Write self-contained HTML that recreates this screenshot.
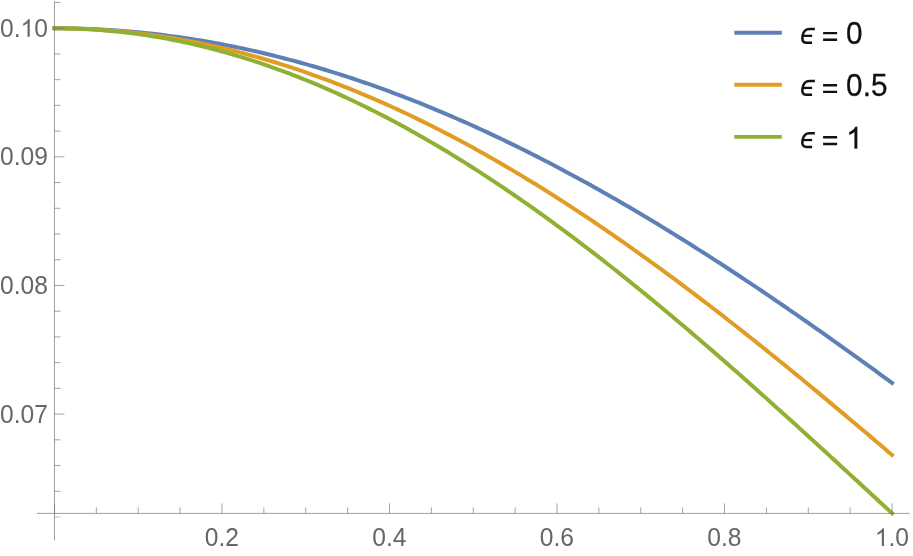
<!DOCTYPE html>
<html><head><meta charset="utf-8"><title>plot</title>
<style>
html,body{margin:0;padding:0;background:#fff;}
body{width:913px;height:556px;overflow:hidden;}
svg{display:block;}
text{font-family:"Liberation Sans",sans-serif;}
.tl{font-size:25.5px;fill:#666;}
.lg{font-size:31px;fill:#111;stroke:#111;stroke-width:0.3px;}
</style></head><body>
<svg width="913" height="556" viewBox="0 0 913 556">
<defs><filter id="gs" x="0" y="0" width="100%" height="100%" filterUnits="userSpaceOnUse" color-interpolation-filters="sRGB"><feColorMatrix type="saturate" values="0"/></filter></defs>
<rect width="913" height="556" fill="#fff"/>

<path d="M54.45,28.30 L58.64,28.31 L62.83,28.34 L67.01,28.39 L71.20,28.46 L75.39,28.55 L79.58,28.66 L83.77,28.79 L87.95,28.94 L92.14,29.11 L96.33,29.31 L100.52,29.52 L104.71,29.75 L108.89,30.00 L113.08,30.27 L117.27,30.56 L121.46,30.87 L125.65,31.20 L129.83,31.56 L134.02,31.93 L138.21,32.32 L142.40,32.73 L146.59,33.16 L150.77,33.61 L154.96,34.08 L159.15,34.58 L163.34,35.09 L167.53,35.62 L171.71,36.17 L175.90,36.74 L180.09,37.33 L184.28,37.94 L188.47,38.57 L192.65,39.22 L196.84,39.89 L201.03,40.58 L205.22,41.29 L209.41,42.02 L213.59,42.76 L217.78,43.53 L221.97,44.32 L226.16,45.13 L230.35,45.95 L234.53,46.80 L238.72,47.66 L242.91,48.55 L247.10,49.45 L251.29,50.38 L255.47,51.32 L259.66,52.28 L263.85,53.26 L268.04,54.26 L272.23,55.28 L276.41,56.32 L280.60,57.38 L284.79,58.46 L288.98,59.56 L293.17,60.67 L297.35,61.80 L301.54,62.96 L305.73,64.13 L309.92,65.32 L314.11,66.53 L318.29,67.76 L322.48,69.01 L326.67,70.27 L330.86,71.56 L335.05,72.86 L339.23,74.18 L343.42,75.52 L347.61,76.88 L351.80,78.25 L355.99,79.65 L360.17,81.06 L364.36,82.49 L368.55,83.94 L372.74,85.41 L376.93,86.90 L381.11,88.40 L385.30,89.92 L389.49,91.46 L393.68,93.02 L397.87,94.59 L402.05,96.19 L406.24,97.80 L410.43,99.43 L414.62,101.07 L418.81,102.73 L422.99,104.42 L427.18,106.11 L431.37,107.83 L435.56,109.56 L439.75,111.31 L443.93,113.08 L448.12,114.86 L452.31,116.66 L456.50,118.48 L460.69,120.31 L464.87,122.16 L469.06,124.03 L473.25,125.92 L477.44,127.82 L481.63,129.73 L485.81,131.67 L490.00,133.62 L494.19,135.58 L498.38,137.57 L502.57,139.57 L506.75,141.58 L510.94,143.61 L515.13,145.66 L519.32,147.72 L523.51,149.80 L527.69,151.89 L531.88,154.00 L536.07,156.12 L540.26,158.26 L544.45,160.42 L548.63,162.59 L552.82,164.78 L557.01,166.98 L561.20,169.19 L565.39,171.42 L569.57,173.67 L573.76,175.93 L577.95,178.20 L582.14,180.49 L586.33,182.79 L590.51,185.11 L594.70,187.44 L598.89,189.79 L603.08,192.15 L607.27,194.52 L611.45,196.91 L615.64,199.31 L619.83,201.73 L624.02,204.16 L628.21,206.60 L632.39,209.06 L636.58,211.53 L640.77,214.01 L644.96,216.51 L649.15,219.01 L653.33,221.54 L657.52,224.07 L661.71,226.62 L665.90,229.18 L670.09,231.75 L674.27,234.33 L678.46,236.93 L682.65,239.54 L686.84,242.16 L691.03,244.79 L695.21,247.44 L699.40,250.10 L703.59,252.76 L707.78,255.44 L711.97,258.13 L716.15,260.84 L720.34,263.55 L724.53,266.28 L728.72,269.01 L732.91,271.76 L737.09,274.51 L741.28,277.28 L745.47,280.06 L749.66,282.85 L753.85,285.65 L758.03,288.46 L762.22,291.28 L766.41,294.10 L770.60,296.94 L774.79,299.79 L778.97,302.65 L783.16,305.52 L787.35,308.39 L791.54,311.28 L795.73,314.17 L799.91,317.08 L804.10,319.99 L808.29,322.91 L812.48,325.84 L816.67,328.78 L820.85,331.72 L825.04,334.68 L829.23,337.64 L833.42,340.61 L837.61,343.59 L841.79,346.57 L845.98,349.57 L850.17,352.57 L854.36,355.57 L858.55,358.59 L862.73,361.61 L866.92,364.64 L871.11,367.67 L875.30,370.71 L879.49,373.76 L883.67,376.82 L887.86,379.87 L892.05,382.94" fill="none" stroke="#5E81B5" stroke-width="4.0" stroke-linecap="square" stroke-linejoin="round"/>
<path d="M54.45,28.30 L58.64,28.31 L62.83,28.35 L67.01,28.41 L71.20,28.50 L75.39,28.61 L79.58,28.75 L83.77,28.91 L87.95,29.09 L92.14,29.30 L96.33,29.54 L100.52,29.80 L104.71,30.08 L108.89,30.39 L113.08,30.73 L117.27,31.08 L121.46,31.47 L125.65,31.88 L129.83,32.31 L134.02,32.77 L138.21,33.25 L142.40,33.75 L146.59,34.28 L150.77,34.84 L154.96,35.42 L159.15,36.02 L163.34,36.65 L167.53,37.31 L171.71,37.98 L175.90,38.68 L180.09,39.41 L184.28,40.16 L188.47,40.94 L192.65,41.74 L196.84,42.56 L201.03,43.41 L205.22,44.28 L209.41,45.17 L213.59,46.09 L217.78,47.04 L221.97,48.00 L226.16,49.00 L230.35,50.01 L234.53,51.05 L238.72,52.11 L242.91,53.20 L247.10,54.31 L251.29,55.45 L255.47,56.61 L259.66,57.79 L263.85,58.99 L268.04,60.22 L272.23,61.47 L276.41,62.75 L280.60,64.05 L284.79,65.37 L288.98,66.71 L293.17,68.08 L297.35,69.47 L301.54,70.89 L305.73,72.33 L309.92,73.79 L314.11,75.27 L318.29,76.78 L322.48,78.31 L326.67,79.86 L330.86,81.43 L335.05,83.03 L339.23,84.65 L343.42,86.29 L347.61,87.95 L351.80,89.64 L355.99,91.35 L360.17,93.08 L364.36,94.83 L368.55,96.60 L372.74,98.40 L376.93,100.22 L381.11,102.06 L385.30,103.92 L389.49,105.80 L393.68,107.70 L397.87,109.63 L402.05,111.58 L406.24,113.55 L410.43,115.53 L414.62,117.54 L418.81,119.58 L422.99,121.63 L427.18,123.70 L431.37,125.79 L435.56,127.91 L439.75,130.04 L443.93,132.20 L448.12,134.37 L452.31,136.57 L456.50,138.79 L460.69,141.02 L464.87,143.28 L469.06,145.55 L473.25,147.85 L477.44,150.16 L481.63,152.50 L485.81,154.85 L490.00,157.22 L494.19,159.62 L498.38,162.03 L502.57,164.46 L506.75,166.91 L510.94,169.38 L515.13,171.86 L519.32,174.37 L523.51,176.89 L527.69,179.43 L531.88,181.99 L536.07,184.57 L540.26,187.17 L544.45,189.78 L548.63,192.41 L552.82,195.06 L557.01,197.73 L561.20,200.41 L565.39,203.11 L569.57,205.83 L573.76,208.57 L577.95,211.32 L582.14,214.09 L586.33,216.88 L590.51,219.68 L594.70,222.50 L598.89,225.33 L603.08,228.18 L607.27,231.05 L611.45,233.93 L615.64,236.83 L619.83,239.74 L624.02,242.67 L628.21,245.61 L632.39,248.57 L636.58,251.55 L640.77,254.54 L644.96,257.54 L649.15,260.56 L653.33,263.59 L657.52,266.64 L661.71,269.70 L665.90,272.77 L670.09,275.86 L674.27,278.96 L678.46,282.08 L682.65,285.21 L686.84,288.35 L691.03,291.51 L695.21,294.67 L699.40,297.86 L703.59,301.05 L707.78,304.25 L711.97,307.47 L716.15,310.70 L720.34,313.94 L724.53,317.20 L728.72,320.46 L732.91,323.74 L737.09,327.03 L741.28,330.33 L745.47,333.64 L749.66,336.96 L753.85,340.29 L758.03,343.63 L762.22,346.98 L766.41,350.34 L770.60,353.72 L774.79,357.10 L778.97,360.49 L783.16,363.89 L787.35,367.30 L791.54,370.72 L795.73,374.14 L799.91,377.58 L804.10,381.02 L808.29,384.48 L812.48,387.94 L816.67,391.41 L820.85,394.88 L825.04,398.37 L829.23,401.86 L833.42,405.36 L837.61,408.86 L841.79,412.37 L845.98,415.89 L850.17,419.42 L854.36,422.95 L858.55,426.49 L862.73,430.03 L866.92,433.58 L871.11,437.13 L875.30,440.69 L879.49,444.25 L883.67,447.82 L887.86,451.40 L892.05,454.97" fill="none" stroke="#E19C24" stroke-width="4.0" stroke-linecap="square" stroke-linejoin="round"/>
<path d="M54.45,28.30 L58.64,28.31 L62.83,28.36 L67.01,28.43 L71.20,28.53 L75.39,28.66 L79.58,28.82 L83.77,29.01 L87.95,29.23 L92.14,29.48 L96.33,29.76 L100.52,30.06 L104.71,30.40 L108.89,30.76 L113.08,31.16 L117.27,31.58 L121.46,32.03 L125.65,32.51 L129.83,33.02 L134.02,33.56 L138.21,34.12 L142.40,34.72 L146.59,35.34 L150.77,36.00 L154.96,36.68 L159.15,37.39 L163.34,38.13 L167.53,38.90 L171.71,39.69 L175.90,40.52 L180.09,41.37 L184.28,42.25 L188.47,43.17 L192.65,44.10 L196.84,45.07 L201.03,46.07 L205.22,47.09 L209.41,48.14 L213.59,49.23 L217.78,50.33 L221.97,51.47 L226.16,52.64 L230.35,53.83 L234.53,55.05 L238.72,56.30 L242.91,57.57 L247.10,58.88 L251.29,60.21 L255.47,61.57 L259.66,62.95 L263.85,64.37 L268.04,65.81 L272.23,67.27 L276.41,68.77 L280.60,70.29 L284.79,71.84 L288.98,73.42 L293.17,75.02 L297.35,76.65 L301.54,78.31 L305.73,79.99 L309.92,81.70 L314.11,83.44 L318.29,85.20 L322.48,86.99 L326.67,88.80 L330.86,90.64 L335.05,92.51 L339.23,94.40 L343.42,96.32 L347.61,98.27 L351.80,100.24 L355.99,102.23 L360.17,104.25 L364.36,106.30 L368.55,108.37 L372.74,110.46 L376.93,112.59 L381.11,114.73 L385.30,116.90 L389.49,119.10 L393.68,121.32 L397.87,123.56 L402.05,125.83 L406.24,128.12 L410.43,130.43 L414.62,132.77 L418.81,135.14 L422.99,137.52 L427.18,139.93 L431.37,142.37 L435.56,144.83 L439.75,147.31 L443.93,149.81 L448.12,152.33 L452.31,154.88 L456.50,157.45 L460.69,160.05 L464.87,162.66 L469.06,165.30 L473.25,167.96 L477.44,170.64 L481.63,173.34 L485.81,176.07 L490.00,178.81 L494.19,181.58 L498.38,184.37 L502.57,187.18 L506.75,190.01 L510.94,192.86 L515.13,195.73 L519.32,198.62 L523.51,201.53 L527.69,204.46 L531.88,207.41 L536.07,210.38 L540.26,213.37 L544.45,216.38 L548.63,219.41 L552.82,222.45 L557.01,225.52 L561.20,228.60 L565.39,231.71 L569.57,234.83 L573.76,237.97 L577.95,241.12 L582.14,244.30 L586.33,247.49 L590.51,250.70 L594.70,253.92 L598.89,257.17 L603.08,260.42 L607.27,263.70 L611.45,266.99 L615.64,270.30 L619.83,273.63 L624.02,276.97 L628.21,280.32 L632.39,283.69 L636.58,287.08 L640.77,290.48 L644.96,293.90 L649.15,297.33 L653.33,300.77 L657.52,304.23 L661.71,307.70 L665.90,311.19 L670.09,314.69 L674.27,318.20 L678.46,321.73 L682.65,325.27 L686.84,328.82 L691.03,332.38 L695.21,335.96 L699.40,339.55 L703.59,343.15 L707.78,346.76 L711.97,350.38 L716.15,354.01 L720.34,357.66 L724.53,361.31 L728.72,364.97 L732.91,368.65 L737.09,372.33 L741.28,376.03 L745.47,379.73 L749.66,383.45 L753.85,387.17 L758.03,390.90 L762.22,394.64 L766.41,398.38 L770.60,402.14 L774.79,405.90 L778.97,409.67 L783.16,413.45 L787.35,417.23 L791.54,421.02 L795.73,424.82 L799.91,428.62 L804.10,432.43 L808.29,436.24 L812.48,440.06 L816.67,443.88 L820.85,447.71 L825.04,451.55 L829.23,455.38 L833.42,459.23 L837.61,463.07 L841.79,466.92 L845.98,470.77 L850.17,474.63 L854.36,478.48 L858.55,482.34 L862.73,486.20 L866.92,490.07 L871.11,493.93 L875.30,497.80 L879.49,501.66 L883.67,505.53 L887.86,509.40 L892.05,513.27" fill="none" stroke="#8FB032" stroke-width="4.0" stroke-linecap="square" stroke-linejoin="round"/>
<g stroke="#666" stroke-width="0.62" fill="none">
<path d="M37,513.4 H909.6"/>
<path d="M54.5,1.3 V540.4"/>
</g>
<g stroke="#666" stroke-width="0.6" fill="none">
<path d="M54.50,513.4 v-10"/>
<path d="M96.33,513.4 v-6"/>
<path d="M138.21,513.4 v-6"/>
<path d="M180.09,513.4 v-6"/>
<path d="M221.97,513.4 v-10"/>
<path d="M263.85,513.4 v-6"/>
<path d="M305.73,513.4 v-6"/>
<path d="M347.61,513.4 v-6"/>
<path d="M389.49,513.4 v-10"/>
<path d="M431.37,513.4 v-6"/>
<path d="M473.25,513.4 v-6"/>
<path d="M515.13,513.4 v-6"/>
<path d="M557.01,513.4 v-10"/>
<path d="M598.89,513.4 v-6"/>
<path d="M640.77,513.4 v-6"/>
<path d="M682.65,513.4 v-6"/>
<path d="M724.53,513.4 v-10"/>
<path d="M766.41,513.4 v-6"/>
<path d="M808.29,513.4 v-6"/>
<path d="M850.17,513.4 v-6"/>
<path d="M892.05,513.4 v-10"/>
<path d="M54.45,2.47 h6"/>
<path d="M54.45,28.20 h10"/>
<path d="M54.45,53.93 h6"/>
<path d="M54.45,79.65 h6"/>
<path d="M54.45,105.38 h6"/>
<path d="M54.45,131.10 h6"/>
<path d="M54.45,156.83 h10"/>
<path d="M54.45,182.56 h6"/>
<path d="M54.45,208.28 h6"/>
<path d="M54.45,234.01 h6"/>
<path d="M54.45,259.73 h6"/>
<path d="M54.45,285.46 h10"/>
<path d="M54.45,311.19 h6"/>
<path d="M54.45,336.91 h6"/>
<path d="M54.45,362.64 h6"/>
<path d="M54.45,388.36 h6"/>
<path d="M54.45,414.09 h10"/>
<path d="M54.45,439.82 h6"/>
<path d="M54.45,465.54 h6"/>
<path d="M54.45,491.27 h6"/>
</g>
<path d="M54.45,516.99 h6" stroke="#666" stroke-width="0.4"/>
<g filter="url(#gs)">
<g transform="translate(221.82,546.00) scale(0.965,1)"><text class="tl" x="-17.72" y="0">0.2</text></g>
<g transform="translate(389.34,546.00) scale(0.965,1)"><text class="tl" x="-17.72" y="0">0.4</text></g>
<g transform="translate(556.86,546.00) scale(0.965,1)"><text class="tl" x="-17.72" y="0">0.6</text></g>
<g transform="translate(724.38,546.00) scale(0.965,1)"><text class="tl" x="-17.72" y="0">0.8</text></g>
<g transform="translate(891.90,546.00) scale(0.965,1)"><path fill="#666" transform="translate(-17.72,0) scale(0.012451,-0.012060)" d="M763,0 L583,0 L583,1147 Q518,1085 412.5,1023 Q307,961 223,930 L223,1104 Q374,1175 487,1276 Q600,1377 647,1472 L763,1472 Z"/><text class="tl" x="-3.54" y="0">.0</text></g>
<g transform="translate(47.90,36.85) scale(0.965,1)"><text class="tl" x="-49.63" y="0">0.</text><path fill="#666" transform="translate(-28.36,0) scale(0.012451,-0.012060)" d="M763,0 L583,0 L583,1147 Q518,1085 412.5,1023 Q307,961 223,930 L223,1104 Q374,1175 487,1276 Q600,1377 647,1472 L763,1472 Z"/><text class="tl" x="-14.18" y="0">0</text></g>
<g transform="translate(47.90,165.48) scale(0.965,1)"><text class="tl" x="-49.63" y="0">0.09</text></g>
<g transform="translate(47.90,294.11) scale(0.965,1)"><text class="tl" x="-49.63" y="0">0.08</text></g>
<g transform="translate(47.90,422.74) scale(0.965,1)"><text class="tl" x="-49.63" y="0">0.07</text></g>
</g>
<path d="M734.3,32.70 H781.8" stroke="#5E81B5" stroke-width="3.9"/>
<path d="M734.3,84.80 H781.8" stroke="#E19C24" stroke-width="3.9"/>
<path d="M734.3,136.90 H781.8" stroke="#8FB032" stroke-width="3.9"/>
<g filter="url(#gs)">
<g transform="translate(797,24.00) scale(0.04316)" fill="none" stroke="#111" stroke-width="58"><path d="M414,116 L290,116 C198,116 146,180 129,274 C116,350 120,433 213,433 L350,433"/><path d="M131,274 L350,274" stroke-width="52"/></g>
<path d="M823.1,33.10 H837.1 M823.1,39.80 H837.1" stroke="#111" stroke-width="2.4" fill="none"/>
<g transform="translate(846.10,44.25) scale(0.96,1)"><text class="lg" x="0.00" y="0">0</text></g>
<g transform="translate(797,76.10) scale(0.04316)" fill="none" stroke="#111" stroke-width="58"><path d="M414,116 L290,116 C198,116 146,180 129,274 C116,350 120,433 213,433 L350,433"/><path d="M131,274 L350,274" stroke-width="52"/></g>
<path d="M823.1,85.20 H837.1 M823.1,91.90 H837.1" stroke="#111" stroke-width="2.4" fill="none"/>
<g transform="translate(846.10,96.35) scale(0.96,1)"><text class="lg" x="0.00" y="0">0.5</text></g>
<g transform="translate(797,128.20) scale(0.04316)" fill="none" stroke="#111" stroke-width="58"><path d="M414,116 L290,116 C198,116 146,180 129,274 C116,350 120,433 213,433 L350,433"/><path d="M131,274 L350,274" stroke-width="52"/></g>
<path d="M823.1,137.30 H837.1 M823.1,144.00 H837.1" stroke="#111" stroke-width="2.4" fill="none"/>
<g transform="translate(846.10,148.45) scale(0.96,1)"><path fill="#111" stroke="#111" stroke-width="0.3" vector-effect="non-scaling-stroke" transform="translate(0.00,0) scale(0.015137,-0.014661)" d="M763,0 L583,0 L583,1147 Q518,1085 412.5,1023 Q307,961 223,930 L223,1104 Q374,1175 487,1276 Q600,1377 647,1472 L763,1472 Z"/></g>
</g>
</svg></body></html>
